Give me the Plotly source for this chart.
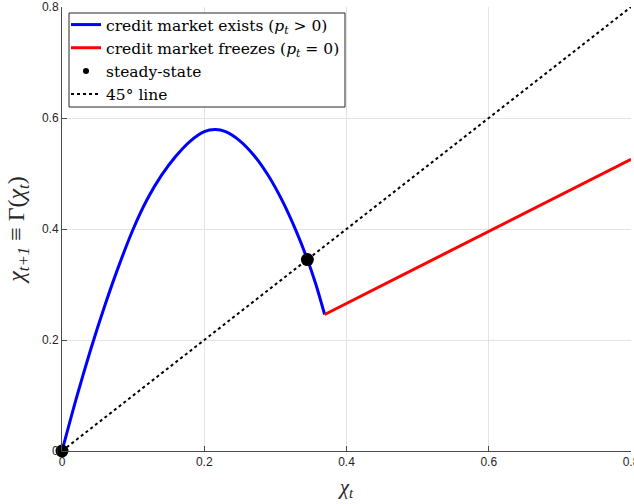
import plotly.graph_objects as go

# Law of motion when the credit market is active (p_t > 0)
chi_active = [0.0, 0.02, 0.04, 0.06, 0.08, 0.10, 0.12, 0.14, 0.16, 0.18,
              0.20, 0.2156, 0.23, 0.25, 0.27, 0.29, 0.31, 0.33, 0.345,
              0.357, 0.3693]
gamma_active = [0.0, 0.0944, 0.1815, 0.2613, 0.3340, 0.3996, 0.4540, 0.4970,
                0.5310, 0.5580, 0.5755, 0.5792, 0.5753, 0.5589, 0.5325,
                0.4963, 0.4501, 0.3939, 0.3450, 0.3000, 0.2459]

# Law of motion when the credit market freezes (p_t = 0)
chi_freeze = [0.3693, 0.8]
gamma_freeze = [0.2459, 0.5257]

# Steady states
ss_chi = [0.0, 0.345]
ss_gamma = [0.0, 0.345]

# 45-degree reference line
diag = [0.0, 0.8]

tick_vals = [0, 0.2, 0.4, 0.6, 0.8]
tick_text = ["0", "0.2", "0.4", "0.6", "0.8"]

SERIF = "DejaVu Serif, Liberation Serif, serif"
TITLE_SERIF = "Liberation Serif, Times New Roman, serif"
SANS = "Liberation Sans, Arial, sans-serif"
AXIS_COLOR = "#4a4a4a"
GRID_COLOR = "#e3e3e3"

# plot-area geometry (pixels) used for placing the legend frame
W, H = 634, 504
ML, MR, MT, MB = 62, 3, 7, 53
PW, PH = W - ML - MR, H - MT - MB


def px_x(p):
    return (p - ML) / PW


def px_y(p):
    return 1 - (p - MT) / PH


fig = go.Figure()

fig.add_trace(go.Scatter(
    x=chi_active, y=gamma_active, mode="lines",
    line=dict(color="#0000ff", width=3, shape="spline", smoothing=0.7),
    name="credit market exists (<i>p<sub>t</sub></i> &gt; 0)",
))
fig.add_trace(go.Scatter(
    x=chi_freeze, y=gamma_freeze, mode="lines",
    line=dict(color="#ff0000", width=3),
    name="credit market freezes (<i>p<sub>t</sub></i> = 0)",
))
# legend entry for the steady states (small marker)
fig.add_trace(go.Scatter(
    x=[None], y=[None], mode="markers",
    marker=dict(color="black", size=6),
    name="steady-state",
))
fig.add_trace(go.Scatter(
    x=diag, y=diag, mode="lines",
    line=dict(color="black", width=2, dash="dot"),
    name="45° line",
))
# steady-state points drawn on top
fig.add_trace(go.Scatter(
    x=ss_chi, y=ss_gamma, mode="markers",
    marker=dict(color="black", size=13),
    showlegend=False, cliponaxis=False,
))

axis_common = dict(
    range=[0, 0.8], tickvals=tick_vals, ticktext=tick_text,
    showgrid=True, gridcolor=GRID_COLOR, gridwidth=1,
    showline=True, linecolor=AXIS_COLOR, linewidth=1,
    ticks="inside", ticklen=5, tickcolor=AXIS_COLOR,
    tickfont=dict(family=SANS, size=12, color="#262626"),
    ticklabeloverflow="allow",
    zeroline=False, automargin=False, fixedrange=True,
)

# legend frame
fig.add_shape(
    type="rect", xref="paper", yref="paper",
    x0=px_x(69), x1=px_x(345), y0=px_y(107), y1=px_y(13),
    line=dict(color="#262626", width=1), fillcolor="white", layer="above",
)

fig.update_layout(
    width=W, height=H,
    margin=dict(l=ML, r=MR, t=MT, b=MB),
    plot_bgcolor="white", paper_bgcolor="white",
    xaxis=dict(**axis_common,
               title=dict(text="<i>χ<sub>t</sub></i>",
                          font=dict(family=TITLE_SERIF, size=21, color="#262626"),
                          standoff=10)),
    yaxis=dict(**axis_common,
               title=dict(text="<i>χ<sub>t+1</sub></i> ≡ Γ(<i>χ<sub>t</sub></i>)",
                          font=dict(family=TITLE_SERIF, size=24, color="#262626"),
                          standoff=10)),
    legend=dict(
        x=px_x(66), y=px_y(8), xanchor="left", yanchor="top",
        bgcolor="rgba(0,0,0,0)", borderwidth=0,
        font=dict(family=SERIF, size=15.5, color="black"),
        tracegroupgap=0,
    ),
    showlegend=True,
)

fig.write_html("out.html")
